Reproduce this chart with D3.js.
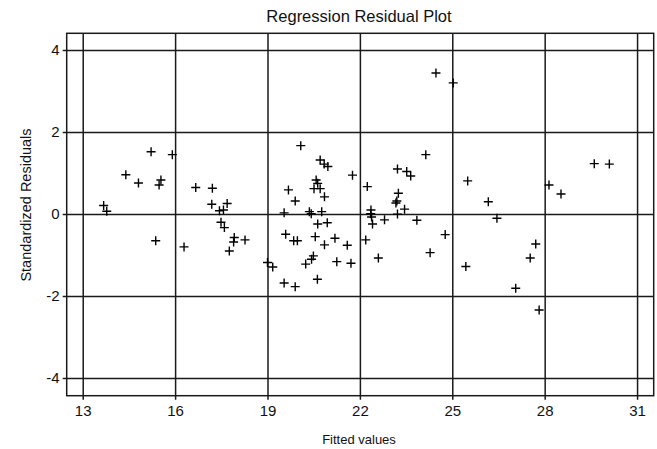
<!DOCTYPE html>
<html>
<head>
<meta charset="utf-8">
<script src="https://cdn.jsdelivr.net/npm/d3@7"></script>
<style>
  html, body { margin: 0; padding: 0; background: #fff; }
  svg { display: block; font-family: "Liberation Sans", Arial, Helvetica, sans-serif; }
</style>
</head>
<body>
<svg id="chart" width="657" height="449"></svg>
<script>
// ---- Data ----
const title = "Regression Residual Plot";
const xLabel = "Fitted values";
const yLabel = "Standardized Residuals";
const xTicks = [13, 16, 19, 22, 25, 28, 31];
const yTicks = [-4, -2, 0, 2, 4];
const fittedValues = [
  13.68, 13.78, 14.40, 14.81, 15.22, 15.37, 15.48, 15.54, 15.91, 16.29,
  16.67, 17.19, 17.21, 17.44, 17.49, 17.57, 17.60, 17.69, 17.76, 17.90,
  17.92, 18.27, 19.00, 19.17, 19.54, 19.54, 19.59, 19.68, 19.85, 19.90,
  19.90, 19.97, 20.08, 20.24, 20.36, 20.42, 20.43, 20.49, 20.51, 20.55,
  20.58, 20.62, 20.63, 20.63, 20.71, 20.71, 20.76, 20.84, 20.85, 20.85,
  20.94, 20.96, 21.19, 21.25, 21.59, 21.71, 21.76, 22.19, 22.24, 22.35,
  22.36, 22.38, 22.41, 22.60, 22.80, 23.17, 23.20, 23.22, 23.22, 23.25,
  23.45, 23.52, 23.65, 23.85, 24.14, 24.28, 24.47, 24.77, 25.03, 25.44,
  25.50, 26.17, 26.45, 27.06, 27.53, 27.71, 27.82, 28.14, 28.53, 29.61,
  30.10
];
const residuals = [
  0.21, 0.07, 0.96, 0.76, 1.52, -0.65, 0.71, 0.83, 1.45, -0.80,
  0.65, 0.24, 0.63, 0.08, -0.20, 0.10, -0.33, 0.26, -0.90, -0.68,
  -0.57, -0.63, -1.18, -1.29, 0.03, -1.68, -0.49, 0.59, -0.65, 0.32,
  -1.77, -0.65, 1.67, -1.22, 0.06, 0.01, -1.10, -1.02, 0.62, -0.55,
  0.83, -1.59, 0.75, -0.24, 1.32, 0.62, 0.06, 1.22, 0.42, -0.75,
  -0.21, 1.16, -0.59, -1.16, -0.76, -1.20, 0.95, -0.63, 0.67, 0.01,
  0.10, -0.07, -0.24, -1.07, -0.14, 0.27, 0.32, 1.10, 0.00, 0.51,
  0.12, 1.04, 0.93, -0.15, 1.45, -0.94, 3.44, -0.50, 3.20, -1.28,
  0.81, 0.30, -0.10, -1.81, -1.07, -0.73, -2.34, 0.71, 0.49, 1.23,
  1.22
];

// ---- Layout ----
const svg = d3.select("#chart");
const plotLeft = 66.7, plotRight = 653.7, plotTop = 33.3, plotBottom = 395.7;
const tickLen = 4;
const lineColor = "#1a1a1a";

const x = d3.scaleLinear().domain([12.48, 31.54]).range([plotLeft, plotRight]);
const y = d3.scaleLinear().domain([-4.43, 4.41]).range([plotBottom, plotTop]);

svg.append("rect").attr("width", 657).attr("height", 449).attr("fill", "#fff");

// X axis with grid lines
const xAxis = d3.axisBottom(x)
  .tickValues(xTicks)
  .tickFormat(d => String(d))
  .tickSizeInner(-(plotBottom - plotTop + tickLen))
  .tickSizeOuter(0)
  .tickPadding(6);
const gx = svg.append("g")
  .attr("transform", `translate(0,${plotBottom + tickLen})`)
  .call(xAxis);
gx.select(".domain").remove();
gx.selectAll(".tick line").attr("stroke", lineColor).attr("stroke-width", 1.5);
gx.selectAll(".tick text")
  .attr("fill", "#111")
  .style("font-size", "15px")
  .style("font-family", "\"Liberation Sans\", Arial, sans-serif");

// Y axis with grid lines
const yAxis = d3.axisLeft(y)
  .tickValues(yTicks)
  .tickFormat(d => String(d))
  .tickSizeInner(-(plotRight - plotLeft + tickLen))
  .tickSizeOuter(0)
  .tickPadding(3);
const gy = svg.append("g")
  .attr("transform", `translate(${plotLeft - tickLen},0)`)
  .call(yAxis);
gy.select(".domain").remove();
gy.selectAll(".tick line").attr("stroke", lineColor).attr("stroke-width", 1.5);
gy.selectAll(".tick text")
  .attr("fill", "#111")
  .style("font-size", "15px")
  .style("font-family", "\"Liberation Sans\", Arial, sans-serif");

// Frame
svg.append("rect")
  .attr("x", plotLeft).attr("y", plotTop)
  .attr("width", plotRight - plotLeft).attr("height", plotBottom - plotTop)
  .attr("fill", "none")
  .attr("stroke", lineColor)
  .attr("stroke-width", 1.5);

// Points as plus markers
const data = fittedValues.map((v, i) => ({ x: v, y: residuals[i] }));
svg.append("g")
  .selectAll("path")
  .data(data)
  .join("path")
  .attr("transform", d => `translate(${x(d.x)},${y(d.y)})`)
  .attr("d", "M-4.5,0H4.5M0,-4.5V4.5")
  .attr("stroke", "#000")
  .attr("stroke-width", 1.4)
  .attr("fill", "none");

// Title
svg.append("text")
  .attr("x", 359).attr("y", 22)
  .attr("text-anchor", "middle")
  .style("font-size", "16.5px")
  .attr("fill", "#111")
  .text(title);

// X label
svg.append("text")
  .attr("x", 359).attr("y", 444)
  .attr("text-anchor", "middle")
  .style("font-size", "13px")
  .attr("fill", "#111")
  .text(xLabel);

// Y label
svg.append("text")
  .attr("transform", "translate(31,205) rotate(-90)")
  .attr("text-anchor", "middle")
  .style("font-size", "14.5px")
  .attr("fill", "#111")
  .text(yLabel);
</script>
</body>
</html>
